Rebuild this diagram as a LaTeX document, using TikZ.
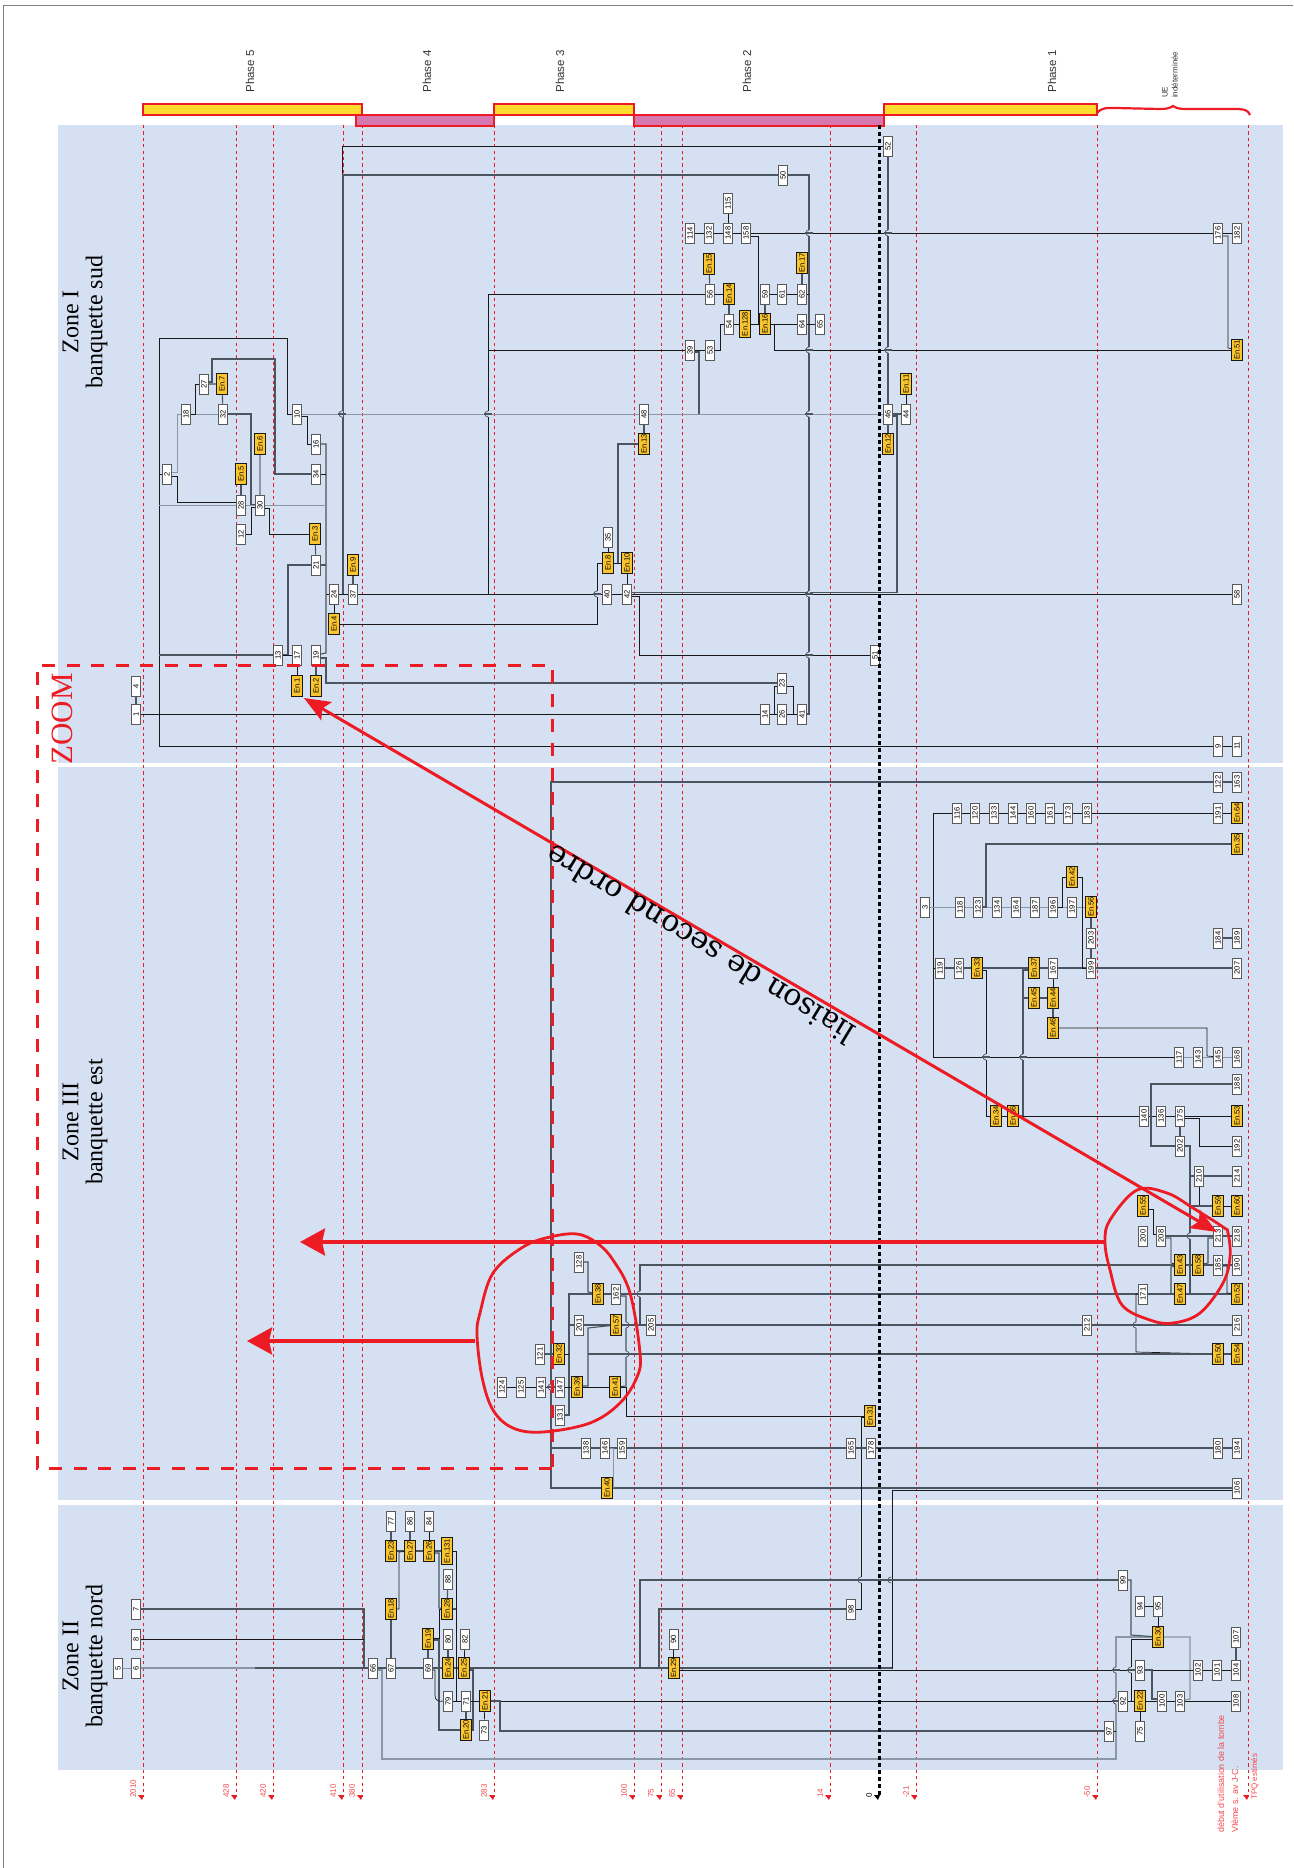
\documentclass[tikz,border=0pt]{standalone}
\usepackage{fontspec}
\setmainfont{Liberation Serif}
\setsansfont{Liberation Sans}
\newfontfamily\liaisonfont{DejaVu Serif}
\usepackage{xcolor}
\usetikzlibrary{arrows.meta,positioning}
\definecolor{zoneblue}{HTML}{D5E1F2}
\definecolor{markred}{HTML}{ED1C24}
\definecolor{phaseyellow}{HTML}{FFDB2D}
\definecolor{phasepink}{HTML}{D678AF}
\definecolor{enyellow}{HTML}{FBC52D}
\definecolor{wiredark}{HTML}{4A5560}
\definecolor{wirelight}{HTML}{8A97A6}
\pgfdeclarelayer{panel}
\pgfdeclarelayer{wire}
\pgfdeclarelayer{mark}
\pgfsetlayers{panel,wire,main,mark}
\newcommand{\hop}[3][-4]{%
  \draw[draw=zoneblue,line width=1.8pt] (#2,#3-3) -- (#2,#3+3);
  \draw[linkd,line width=.7pt] (#2,#3-3) .. controls (#2+#1,#3-3) and (#2+#1,#3+3) .. (#2,#3+3);
  \draw[linkd] (#2-4,#3) -- (#2+4,#3);}
\begin{document}
\begin{tikzpicture}[
    x=1pt, y=-1pt,
    usbox/.style={
      draw=black!65, fill=white, line width=.6pt, rotate=90,
      minimum width=20pt, minimum height=9pt, inner sep=0pt,
      font=\sffamily\fontsize{7.6}{7.6}\selectfont
    },
    enbox/.style={
      draw=black!90, fill=enyellow, line width=.9pt, rotate=90,
      minimum width=21pt, minimum height=11pt, inner sep=0pt,
      font=\sffamily\fontsize{7.6}{7.6}\selectfont
    },
    enlong/.style={enbox, minimum width=27pt},
    link/.style={draw=black!90, line width=.7pt},
    linkd/.style={draw=wiredark, line width=1.1pt},
    linkl/.style={draw=wirelight, line width=.9pt},
    linkt/.style={draw=wiredark, line width=1.6pt},
    zone/.style={fill=zoneblue, draw=none},
    phase/.style={draw=markred, line width=1.6pt},
    phasetext/.style={rotate=90, anchor=west, font=\sffamily\fontsize{11.5}{11.5}\selectfont, text=black!80},
    datetext/.style={rotate=90, anchor=west, inner sep=0pt, text=markred!80, font=\sffamily\fontsize{8}{8}\selectfont},
    zonetext/.style={rotate=90, align=center, font=\fontsize{24}{24}\selectfont},
    ring/.style={draw=markred, line width=2.8pt},
    bigarrow/.style={draw=markred, line width=3.6pt, -{Stealth[length=25pt,width=27pt,inset=3pt]}}
  ]
  \useasboundingbox (0,0) rectangle (1293,1868);

  % zones
  \begin{pgfonlayer}{panel}
    \fill[zone] (58,125) rectangle (1283,763);
    \fill[zone] (58,767) rectangle (1283,1500);
    \fill[zone] (58,1505) rectangle (1283,1770);
    \draw[black!50, line width=.6pt] (1293,5) -- (3,5) -- (3,1868);
  \end{pgfonlayer}

  \node[zonetext] (zonea) at (85,322) {Zone I\\banquette sud};
  \node[zonetext] (zoneb) at (85,1122) {Zone III\\banquette est};
  \node[zonetext] (zonec) at (85,1656) {Zone II\\banquette nord};

  % phases
  \node[phase, fill=phasepink, minimum width=138pt, minimum height=11pt, inner sep=0pt] (pha4) at (425,120.5) {};
  \node[phase, fill=phasepink, minimum width=250pt, minimum height=11pt, inner sep=0pt] (pha2) at (759,120.5) {};
  \node[phase, fill=phaseyellow, minimum width=219pt, minimum height=11pt, inner sep=0pt] (pha5) at (252.5,109.5) {};
  \node[phase, fill=phaseyellow, minimum width=140pt, minimum height=11pt, inner sep=0pt] (pha3) at (564,109.5) {};
  \node[phase, fill=phaseyellow, minimum width=213pt, minimum height=11pt, inner sep=0pt] (pha1) at (990.5,109.5) {};
  \node[phasetext] (tph5) at (250,96) {Phase 5};
  \node[phasetext] (tph4) at (427,96) {Phase 4};
  \node[phasetext] (tph3) at (560,96) {Phase 3};
  \node[phasetext] (tph2) at (747,96) {Phase 2};
  \node[phasetext] (tph1) at (1052,96) {Phase 1};
  \node[rotate=90, anchor=west, align=left, inner sep=0pt, text=black!80,
    font=\sffamily\fontsize{8}{10}\selectfont] (tue) at (1170,98) {UE\\indéterminée};

  % zone I
  \node[usbox] (u27) at (204,384) {27};
  \node[enbox] (en7) at (222,384) {En.7};
  \node[usbox] (u18) at (186,414) {18};
  \node[usbox] (u32) at (223,414) {32};
  \node[usbox] (u10) at (297,414) {10};
  \node[enbox] (en6) at (260,444) {En.6};
  \node[usbox] (u16) at (316,444) {16};
  \node[usbox] (u2) at (167,474) {2};
  \node[usbox] (u34) at (316,474) {34};
  \node[enbox] (en5) at (241,474) {En.5};
  \node[usbox] (u28) at (241,505) {28};
  \node[usbox] (u30) at (260,505) {30};
  \node[usbox] (u12) at (241,534) {12};
  \node[enbox] (en3) at (315,534) {En.3};
  \node[usbox] (u21) at (316,565) {21};
  \node[enbox] (en9) at (353,565) {En.9};
  \node[usbox] (u24) at (334,594) {24};
  \node[usbox] (u37) at (353,594) {37};
  \node[enbox] (en4) at (334,624) {En.4};
  \node[usbox] (u13) at (278,655) {13};
  \node[usbox] (u17) at (297,655) {17};
  \node[usbox] (u19) at (316,655) {19};
  \node[enbox] (en1) at (297,686) {En.1};
  \node[enbox] (en2) at (316,686) {En.2};
  \node[usbox] (u4) at (136,686) {4};
  \node[usbox] (u1) at (136,714) {1};
  \node[enbox] (en8) at (608,563) {En.8};
  \node[usbox] (u35) at (608,537) {35};
  \node[usbox] (u40) at (607,594) {40};
  \node[usbox] (u52) at (888,146) {52};
  \node[usbox] (u50) at (783,175) {50};
  \node[usbox] (u115) at (728,203) {115};
  \node[usbox] (u114) at (690,233) {114};
  \node[usbox] (u132) at (709,233) {132};
  \node[usbox] (u148) at (728,233) {148};
  \node[usbox] (u158) at (746,233) {158};
  \node[usbox] (u176) at (1218,233) {176};
  \node[usbox] (u182) at (1237,233) {182};
  \node[enbox] (en15) at (709,264) {En.15};
  \node[enbox] (en17) at (802,263) {En.17};
  \node[usbox] (u56) at (710,294) {56};
  \node[enbox] (en14) at (729,294) {En.14};
  \node[usbox] (u59) at (765,294) {59};
  \node[usbox] (u61) at (782,294) {61};
  \node[usbox] (u62) at (802,294) {62};
  \node[usbox] (u54) at (729,324) {54};
  \node[enlong] (en128) at (745,324) {En.128};
  \node[enbox] (en16) at (765,324) {En.16};
  \node[usbox] (u64) at (802,324) {64};
  \node[usbox] (u65) at (820,324) {65};
  \node[usbox] (u39) at (690,350) {39};
  \node[usbox] (u53) at (710,350) {53};
  \node[enbox] (en51) at (1237,350) {En.51};
  \node[enbox] (en11) at (906,384) {En.11};
  \node[usbox] (u48) at (644,414) {48};
  \node[usbox] (u46) at (888,414) {46};
  \node[usbox] (u44) at (906,414) {44};
  \node[enbox] (en13) at (644,444) {En.13};
  \node[enbox] (en12) at (888,444) {En.12};
  \node[enbox] (en10) at (627,563) {En.10};
  \node[usbox] (u42) at (627,594) {42};
  \node[usbox] (u58) at (1237,594) {58};
  \node[usbox] (u51) at (875,655) {51};
  \node[usbox] (u23) at (782,683) {23};
  \node[usbox] (u14) at (765,714) {14};
  \node[usbox] (u26) at (782,714) {26};
  \node[usbox] (u41) at (802,714) {41};
  \node[usbox] (u9) at (1218,746) {9};
  \node[usbox] (u11) at (1237,746) {11};

  % zone III
  \node[usbox] (u122) at (1218,782) {122};
  \node[usbox] (u163) at (1237,782) {163};
  \node[usbox] (u116) at (957,813) {116};
  \node[usbox] (u120) at (975,813) {120};
  \node[usbox] (u133) at (994,813) {133};
  \node[usbox] (u144) at (1013,813) {144};
  \node[usbox] (u160) at (1031,813) {160};
  \node[usbox] (u161) at (1050,813) {161};
  \node[usbox] (u173) at (1068,813) {173};
  \node[usbox] (u183) at (1087,813) {183};
  \node[usbox] (u191) at (1218,813) {191};
  \node[enbox] (en64) at (1237,813) {En.64};
  \node[enbox] (en35) at (1237,844) {En.35};
  \node[enbox] (en42) at (1072,877) {En.42};
  \node[usbox] (u3) at (925,907) {3};
  \node[usbox] (u118) at (960,907) {118};
  \node[usbox] (u123) at (978,907) {123};
  \node[usbox] (u134) at (997,907) {134};
  \node[usbox] (u164) at (1016,907) {164};
  \node[usbox] (u187) at (1035,907) {187};
  \node[usbox] (u196) at (1053,907) {196};
  \node[usbox] (u197) at (1072,907) {197};
  \node[enbox] (en56) at (1091,907) {En.56};
  \node[usbox] (u203) at (1091,938) {203};
  \node[usbox] (u184) at (1218,938) {184};
  \node[usbox] (u189) at (1237,938) {189};
  \node[usbox] (u119) at (940,968) {119};
  \node[usbox] (u126) at (959,968) {126};
  \node[enbox] (en33) at (977,968) {En.33};
  \node[enbox] (en37) at (1034,968) {En.37};
  \node[usbox] (u167) at (1053,968) {167};
  \node[usbox] (u199) at (1091,968) {199};
  \node[usbox] (u207) at (1237,968) {207};
  \node[enbox] (en45) at (1034,998) {En.45};
  \node[enbox] (en44) at (1053,998) {En.44};
  \node[enbox] (en46) at (1053,1028) {En.46};
  \node[usbox] (u117) at (1179,1057) {117};
  \node[usbox] (u143) at (1198,1057) {143};
  \node[usbox] (u145) at (1218,1057) {145};
  \node[usbox] (u168) at (1237,1057) {168};
  \node[usbox] (u188) at (1237,1084) {188};
  \node[enbox] (en34) at (996,1116) {En.34};
  \node[enbox] (en36) at (1013,1116) {En.36};
  \node[usbox] (u140) at (1144,1116) {140};
  \node[usbox] (u136) at (1161,1116) {136};
  \node[usbox] (u175) at (1180,1116) {175};
  \node[enbox] (en53) at (1237,1116) {En.53};
  \node[usbox] (u202) at (1180,1146) {202};
  \node[usbox] (u192) at (1237,1146) {192};
  \node[usbox] (u210) at (1199,1176) {210};
  \node[usbox] (u214) at (1237,1176) {214};
  \node[enbox] (en55) at (1143,1206) {En.55};
  \node[enbox] (en59) at (1218,1206) {En.59};
  \node[enbox] (en60) at (1237,1206) {En.60};
  \node[usbox] (u200) at (1143,1236) {200};
  \node[usbox] (u208) at (1161,1236) {208};
  \node[usbox] (u213) at (1218,1236) {213};
  \node[usbox] (u218) at (1237,1236) {218};
  \node[enbox] (en43) at (1180,1265) {En.43};
  \node[enbox] (en58) at (1198,1265) {En.58};
  \node[usbox] (u185) at (1218,1265) {185};
  \node[usbox] (u190) at (1237,1265) {190};
  \node[usbox] (u171) at (1143,1294) {171};
  \node[enbox] (en47) at (1180,1294) {En.47};
  \node[enbox] (en52) at (1237,1294) {En.52};
  \node[usbox] (u212) at (1087,1325) {212};
  \node[usbox] (u216) at (1237,1325) {216};
  \node[enbox] (en50) at (1218,1354) {En.50};
  \node[enbox] (en54) at (1237,1354) {En.54};
  \node[usbox] (u128) at (579,1262) {128};
  \node[enbox] (en38) at (598,1294) {En.38};
  \node[usbox] (u162) at (616,1294) {162};
  \node[usbox] (u201) at (579,1325) {201};
  \node[enbox] (en57) at (616,1325) {En.57};
  \node[usbox] (u205) at (651,1325) {205};
  \node[usbox] (u121) at (540,1354) {121};
  \node[enbox] (en32) at (559,1354) {En.32};
  \node[usbox] (u124) at (502,1387) {124};
  \node[usbox] (u125) at (521,1387) {125};
  \node[usbox] (u141) at (541,1387) {141};
  \node[usbox] (u147) at (560,1387) {147};
  \node[enbox] (en39) at (577,1387) {En.39};
  \node[enbox] (en41) at (615,1387) {En.41};
  \node[usbox] (u131) at (560,1415) {131};
  \node[enbox] (en31) at (870,1416) {En.31};
  \node[usbox] (u138) at (586,1448) {138};
  \node[usbox] (u146) at (605,1448) {146};
  \node[usbox] (u159) at (622,1448) {159};
  \node[usbox] (u165) at (851,1448) {165};
  \node[usbox] (u178) at (871,1448) {178};
  \node[usbox] (u180) at (1218,1448) {180};
  \node[usbox] (u194) at (1237,1448) {194};
  \node[enbox] (en40) at (607,1488) {En.40};
  \node[usbox] (u106) at (1237,1488) {106};

  % zone II
  \node[usbox] (u77) at (391,1521) {77};
  \node[usbox] (u86) at (410,1521) {86};
  \node[usbox] (u84) at (429,1521) {84};
  \node[enbox] (en23) at (391,1551) {En.23};
  \node[enbox] (en27) at (410,1551) {En.27};
  \node[enbox] (en26) at (429,1551) {En.26};
  \node[enlong] (en131) at (447,1551) {En.131};
  \node[usbox] (u88) at (448,1579) {88};
  \node[enbox] (en28) at (447,1609) {En.28};
  \node[enbox] (en18) at (391,1609) {En.18};
  \node[usbox] (u7) at (136,1609) {7};
  \node[usbox] (u8) at (136,1639) {8};
  \node[usbox] (u80) at (448,1639) {80};
  \node[usbox] (u82) at (465,1639) {82};
  \node[enbox] (en19) at (428,1639) {En.19};
  \node[usbox] (u5) at (118,1668) {5};
  \node[usbox] (u6) at (136,1668) {6};
  \node[usbox] (u66) at (373,1668) {66};
  \node[usbox] (u67) at (391,1668) {67};
  \node[usbox] (u69) at (428,1668) {69};
  \node[enbox] (en24) at (448,1668) {En.24};
  \node[enbox] (en25) at (464,1668) {En.25};
  \node[usbox] (u79) at (448,1701) {79};
  \node[usbox] (u71) at (466,1701) {71};
  \node[enbox] (en21) at (485,1701) {En.21};
  \node[enbox] (en20) at (466,1730) {En.20};
  \node[usbox] (u73) at (484,1730) {73};
  \node[usbox] (u99) at (1123,1580) {99};
  \node[usbox] (u98) at (851,1609) {98};
  \node[usbox] (u94) at (1140,1606) {94};
  \node[usbox] (u95) at (1158,1606) {95};
  \node[enbox] (en30) at (1158,1637) {En.30};
  \node[usbox] (u90) at (673.5,1639) {90};
  \node[usbox] (u107) at (1236,1637) {107};
  \node[enbox] (en29) at (673.5,1668) {En.29};
  \node[usbox] (u93) at (1140,1670) {93};
  \node[usbox] (u102) at (1198,1670) {102};
  \node[usbox] (u101) at (1217,1670) {101};
  \node[usbox] (u104) at (1236,1670) {104};
  \node[usbox] (u92) at (1123,1701) {92};
  \node[enbox] (en22) at (1140,1701) {En.22};
  \node[usbox] (u100) at (1162,1701) {100};
  \node[usbox] (u103) at (1180,1701) {103};
  \node[usbox] (u108) at (1236,1701) {108};
  \node[usbox] (u97) at (1109,1731) {97};
  \node[usbox] (u75) at (1140,1731) {75};

  % buses
  \coordinate (b159) at (159,500);
  \coordinate (b326) at (326,500);
  \coordinate (b364) at (364,1600);
  \coordinate (b488) at (488,500);
  \coordinate (b551) at (551,1000);
  \coordinate (b569) at (569,1300);
  \coordinate (b588) at (588,1300);
  \coordinate (b618) at (618,563);
  \coordinate (b699) at (699,414);
  \coordinate (b809) at (809,500);
  \coordinate (b933) at (933,900);
  \coordinate (b1023) at (1023,1000);
  \coordinate (b1116) at (1116,1700);
  \coordinate (b1190) at (1190,1200);
  \coordinate (b456) at (456,1600);

  \begin{pgfonlayer}{wire}
    % dates
    \foreach \dx in {143,236,273,343,362,494,634,661,682,830,916,1097,1248} {
      \draw[draw=markred, line width=.7pt, dash pattern=on 3.2pt off 3.2pt] (\dx,125) -- (\dx,1797);
      \fill[markred] (\dx-5,1795) -- (\dx+1,1795) -- (\dx-1,1800) -- cycle;
    }
    % zone I
    \draw[link] (u52) -| (342,594) -- (u37);
    \draw[linkd] (u41) -| (809,175) -- (u50) -| (343,594);
    \draw[link] (u114) -- (u132) -- (u148) -- (u158) -- (u176) -- (u182);
    \draw[link] (u115) -- (u148);
    \draw[link] (u158) ++(0,3) -| (758,324) -- (en16);
    \draw[link] (u176) ++(0,3) -| (1228,348) -- (en51);
    \draw[linkd] (u52) -- (u46);
    \draw[linkd] (u46) -- (en12);
    \draw[linkd] (en15) -- (u56);
    \draw[linkd] (en17) -- (u62);
    \draw[link] (en14) -- (u56) -| (488,594);
    \draw[link] (u39) -- (u39 -| b488);
    \draw[link] (u39) -- (u53) -| (720,324) -- (u54);
    \draw[linkd] (en14) -- (u54);
    \draw[link] (u54) -- (en128) -- (en16) -- (u64) -- (u65);
    \draw[linkd] (en16) -- (u59);
    \draw[link] (u59) -- (u61) -- (u62) -- (u62 -| b809);
    \draw[link] (en16) -| (774,350) -- (en51);
    \draw[linkd] (u39) ++(0,2) -| (b699);
    \draw[linkl] (u10) -- (u48) -- (u46);
    \draw[linkd] (u48) -- (en13);
    \draw[linkd] (en13) -| (b618);
    \draw[linkd] (u46) -- (u44);
    \draw[link] (u44) -- (en11);
    \draw[linkd] (u46) ++(0,2) -| (897,592.5) -| (u42);
    \draw[link] (u24) -- (u37) -- (u40) -- (u42) -- (u58);
    \draw[link] (u24) -- (u24 -| b326);
    \draw[linkd] (u16) -| (326,653) -- (u19);
    \draw[link] (u34) -- (u34 -| b326);
    \draw[linkd] (u21) -- (u21 -| b326);
    \draw[link] (u42) ++(0,2) -| (639,655) -- (u51);
    \draw[link] (en10) -- (u42);
    \draw[link] (en8) -- (en10);
    \draw[link] (en8) -- (u35);
    \draw[link] (en8) -| (597,624) -- (en4);
    \draw[link] (en4) -- (u24);
    \draw[linkd] (en9) -- (u37);
    \draw[linkd] (u19) ++(0,3) -| (326,683) -- (u23);
    \draw[link] (u23) ++(0,3) -| (774,714) -- (u14);
    \draw[link] (u23) ++(0,3) -| (793,714) -- (u41);
    \draw[link] (u1) -- (u14) -- (u26) -- (u41);
    \draw[linkd] (u4) -- (u1);
    \draw[link] (u11) -- (u9) -| (159,338) -| (287,414) -- (u10);
    \draw[link] (u2) -- (u2 -| b159);
    \draw[link] (u2) ++(0,2) -| (177,502) -| (u28);
    \draw[linkl] (u2) ++(0,-2) -| (177,414) -- (u18);
    \draw[linkl] (u18) -- (u32);
    \draw[linkd] (u32) -| (251,505) -- (u30);
    \draw[link] (u18) -| (195,384) -- (u27);
    \draw[linkd] (u27) -- (en7) -- (u32);
    \draw[linkd] (u27) ++(0,-2) -| (212,359) -| (275,474) -- (u34);
    \draw[link] (u10) ++(0,2) -| (307,444) -- (u16);
    \draw[linkl] (u28 -| b159) -- (u28) -- (u30) -- (u30 -| b326);
    \draw[linkl, line width=1.4pt] (en6) -- (u30);
    \draw[linkd] (en5) -- (u28);
    \draw[link] (u12) -| (251,507) -| (u30);
    \draw[link] (u30) ++(0,3) -| (269,534) -- (en3);
    \draw[linkd] (en3) -- (u21);
    \draw[linkd] (u13) -| (288,565) -- (u21);
    \draw[link] (u13) -- (u17);
    \draw[linkd] (u13 -| b159) -- (u13);
    \draw[link] (en1) -- (u17);
    \draw[linkd] (en2) -- (u19);
    % zone III
    \draw[linkd] (u163) -- (u122) -| (551,1488) -- (en40) -- (u106);
    \draw[link] (en64) -- (u191) -- (u183) -- (u173) -- (u161) -- (u160) -- (u144) -- (u133) -- (u120) -- (u116) -| (933,1057) -- (u117);
    \draw[linkl] (u117) -- (u143) -- (u145) -- (u168);
    \draw[link] (u119) -- (u119 -| b933);
    \draw[linkd] (u119) -- (u126) -- (en33) -- (en37) -- (u167) -- (u199) -- (u207);
    \draw[linkl] (u3) -- (u118) -- (u123) -- (u134) -- (u164) -- (u187) -- (u196) -- (u197) -- (en56);
    \draw[linkd] (en35) -| (986,907) -- (u123);
    \draw[link] (u196) -| (1062,877) -- (en42);
    \draw[link] (en42) -| (1082,968) -- (u199);
    \draw[linkd] (en56) -- (u203) -- (u199);
    \draw[linkd] (u184) -- (u189);
    \draw[link] (en33) ++(0,2) -| (986,1116) -- (en34);
    \draw[linkd] (en37) ++(0,2) -| (1023,1116) -- (en36);
    \draw[linkd] (en45) -- (en45 -| b1023);
    \draw[linkt] (en45) -- (en44);
    \draw[link] (u167) -- (en44);
    \draw[linkd] (en44) -- (en46);
    \draw[link] (en46) -| (1207,1056) -- (u145);
    \draw[link] (en34) -- (en36) -- (u140) -- (u136) -- (u175) -- (en53);
    \draw[linkd] (u188) -| (1151,1146) -- (u202);
    \draw[linkd] (u175) -- (u202);
    \draw[link] (u175) ++(0,2) -| (1199,1146) -- (u192);
    \draw[linkd] (u202) -| (1190,1294) -- (en47);
    \draw[linkd] (u210 -| b1190) -- (u210) -- (u214);
    \draw[link] (u210) |- (en59);
    \draw[linkd] (en59 -| b1190) -- (en59);
    \draw[link] (en59) -- (en60);
    \draw[link] (en55) ++(0,3) -| (1153,1234) -| (u208);
    \draw[linkd] (u208) -- (u213) -- (u218);
    \draw[link] (u208) ++(0,2) -| (1171,1263) -- (en43);
    \draw[linkd] (u213) ++(0,2) -| (1208,1263) -- (en58);
    \draw[linkd] (u190) -- (u185) -- (en58) -- (en43) -| (640,1325) -- (en57);
    \draw[linkd] (en47) -| (1171,1267) -- (en43);
    \draw[linkd] (en52) -- (en47) -- (u171) -- (u162) -- (en38) -| (569,1415) -- (u131);
    \draw[link] (u185) ++(0,1) -| (1227,1293) -- (en52);
    \draw[link] (u171) -| (1136,1352) -- (en50);
    \draw[linkd] (u216) -- (u212) -- (u205) -- (en57) -- (u201) -- (u201 -| b569);
    \draw[linkd] (en54) -- (en50) -- (en50 -| b588);
    \draw[linkd] (u121) -- (en32);
    \draw[link] (en32) -- (en32 -| b569);
    \draw[linkd] (en39) ++(0,-1) -| (588,1328) -- (en57);
    \draw[link] (u124) -- (u125) -- (u141) -- (u147) -- (en39) -- (en41);
    \draw[linkd] (u162) ++(0,2) -| (626,1386) -- (en41);
    \draw[link] (en41) -| (626,1416) -- (en31);
    \draw[link] (en31) ++(0,1) -| (861,1609) -- (u98);
    \draw[linkd] (u98) -| (659,1668);
    \draw[linkd] (u128) -| (588,1292) -- (en38);
    \draw[linkd] (u194) -- (u180) -- (u178) -- (u165) -- (u159) -- (u146) -- (u138) -- (u138 -| b551);
    \draw[linkl] (en40) ++(6,0) |- (u146);
    \draw[link] (u106) ++(0,2) -| (892,1668) -- (en29);
    % zone II
    \draw[linkl] (u5) -- (u6);
    \draw[linkt, draw=wirelight] (u6) -- (255,1668);
    \draw[linkt] (255,1668) -- (u66);
    \draw[linkt] (u66) -- (u67) -- (u69) -- (en24) -- (en25) -- (en29);
    \draw[linkt] (en29) -- (892,1668);
    \draw[linkd] (u7) -| (364,1668);
    \draw[link] (u8) -- (u8 -| b364);
    \draw[linkl, line width=1.2pt] (u66) ++(0,2) -| (382,1759) -| (1116,1637) -- (en30);
    \draw[linkl, line width=1.2pt] (en30) -| (1190,1699) -- (u103);
    \draw[linkd] (u99) -| (640,1668);
    \draw[linkd] (u99) -| (1131,1635) -- (en30);
    \draw[link] (en30) ++(0,2) -| (1131,1701) -- (en22);
    \draw[link] (en29) ++(0,2) -- (u93) -- (u102) -- (u101) -- (u104);
    \draw[linkd] (u107) -- (u104);
    \draw[linkd] (u93) -| (1152,1699) -| (u100);
    \draw[link] (en21) -- (u92) -- (en22) -- (u100) -- (u103) -- (u108);
    \draw[linkd] (en21) -| (500,1731) -- (u97);
    \draw[link] (u97) -- (u97 -| b1116);
    \draw[link] (en22) -- (u75);
    \draw[link] (u94) -- (u95);
    \draw[link] (u95) -- (en30);
    \draw[link] (u90) -- (en29);
    \draw[linkd] (u77) -- (en23);
    \draw[linkd] (u86) -- (en27);
    \draw[link] (u84) -- (en26);
    \draw[linkd] (en23) -- (en27) -- (en26) -- (en131);
    \draw[link] (en131) -| (456,1701) -- (u71);
    \draw[linkd] (u88) -- (en28);
    \draw[linkd] (en28) -- (en28 -| b456);
    \draw[linkd] (en26) ++(0,2) -| (439,1608) -- (en28);
    \draw[link] (en19) ++(0,-1) -| (439,1609) -- (en28);
    \draw[linkd] (en19) ++(0,1) -| (439,1730) -- (en20);
    \draw[link] (en18) -| (399,1552) -- (en27);
    \draw[linkd] (en18) -- (u67);
    \draw[linkd] (en19) -- (u69);
    \draw[link] (u69) ++(0,2) -| (435,1695) .. controls (435,1703) and (442,1701) .. (u79);
    \draw[linkd] (u80) -- (en24);
    \draw[link] (u82) -- (en25);
    \draw[linkd] (en25) ++(0,2) -| (473,1730) -- (en20);
    \draw[link] (u79) -- (u71) -- (en21);
    \draw[linkd] (u71) -- (en20);
    \draw[link] (en21) -- (u73);
    % line jumps
    \foreach \hx/\hy in {342/414,488/414,809/233,809/350,809/414,809/594,809/655,888/233,888/350,597/594,986/1057,1023/1057,1190/1236,1136/1325,640/1294,551/1387,861/1580,891/1580,1116/1670,1131/1670,1116/1701}
      \hop{\hx}{\hy};
    \hop[4]{626}{1325};
    \hop[4]{626}{1354};
  \end{pgfonlayer}

  % date labels
  \foreach \lx/\lt in {133/2010,226/428,263/420,333/410,352/380,484/283,624/100,651/75,672/65,820/14,906/-21,1087/-50}
    \node[datetext] (date\lx) at (\lx,1798) {\lt};
  \node[datetext, text=black] (date0) at (869,1798) {0};
  \node[datetext, align=left, font=\sffamily\fontsize{8.9}{14}\selectfont] (tdebut) at (1228,1833) {début d'utilisation de la tombe\\VIème s. av J-C.};
  \node[datetext] (ttpq) at (1255,1800) {TPQ estimés};

  % annotations
  \begin{pgfonlayer}{mark}
    \draw[black, line width=3pt, dash pattern=on 3.5pt off 3.5pt] (879,125) -- (879,1797);
    \fill[black] (874,1795) -- (880,1795) -- (878,1800) -- cycle;
    \draw[draw=markred, line width=2.2pt] (1097,113) .. controls (1102,107) and (1108,108) .. (1115,108)
      -- (1160,109) .. controls (1167,109) and (1170,108) .. (1173,106)
      .. controls (1176,108) and (1179,109) .. (1186,109) -- (1236,109) .. controls (1244,109) and (1248,110) .. (1250,115);
    \draw[draw=markred, line width=3pt, dash pattern=on 13pt off 11.5pt] (552,1468) -- (37,1468) -- (37,665) -- (552,665) -- cycle;
    \node[rotate=90, text=markred, inner sep=0pt, font=\fontsize{31}{31}\selectfont] (zoomlab) at (62,719) {ZOOM};
    \draw[ring] plot[smooth cycle, tension=.6] coordinates {(1137,1190) (1167,1193) (1193,1208) (1223,1227) (1228,1233) (1230,1257) (1223,1283) (1200,1313) (1173,1323) (1150,1320) (1122,1305) (1110,1270) (1105,1242) (1110,1220)};
    \draw[ring] plot[smooth cycle, tension=.6] coordinates {(577,1234) (597,1243) (613,1260) (630,1293) (640,1353) (637,1377) (620,1403) (590,1423) (543,1432) (513,1428) (493,1410) (482,1377) (477,1335) (480,1313) (493,1273) (523,1247) (550,1237)};
    \coordinate (ringa) at (1106,1242);
    \coordinate (ringb) at (475,1341);
    \coordinate (taila) at (300,1242);
    \coordinate (tailb) at (247,1341);
    \coordinate (tipa) at (304,698);
    \coordinate (tipb) at (1217,1232);
    \draw[bigarrow] (ringa) -- (taila);
    \draw[bigarrow] (ringb) -- (tailb);
    \draw[draw=markred, line width=3pt, {Stealth[length=26pt,width=21pt,inset=5pt]}-{Stealth[length=26pt,width=21pt,inset=5pt]}] (tipa) -- (tipb);
    \node[rotate=148.7, inner sep=0pt, font=\liaisonfont\fontsize{30}{30}\selectfont] (liaison) at (700,945) {liaison de second ordre};
  \end{pgfonlayer}
\end{tikzpicture}
\end{document}
